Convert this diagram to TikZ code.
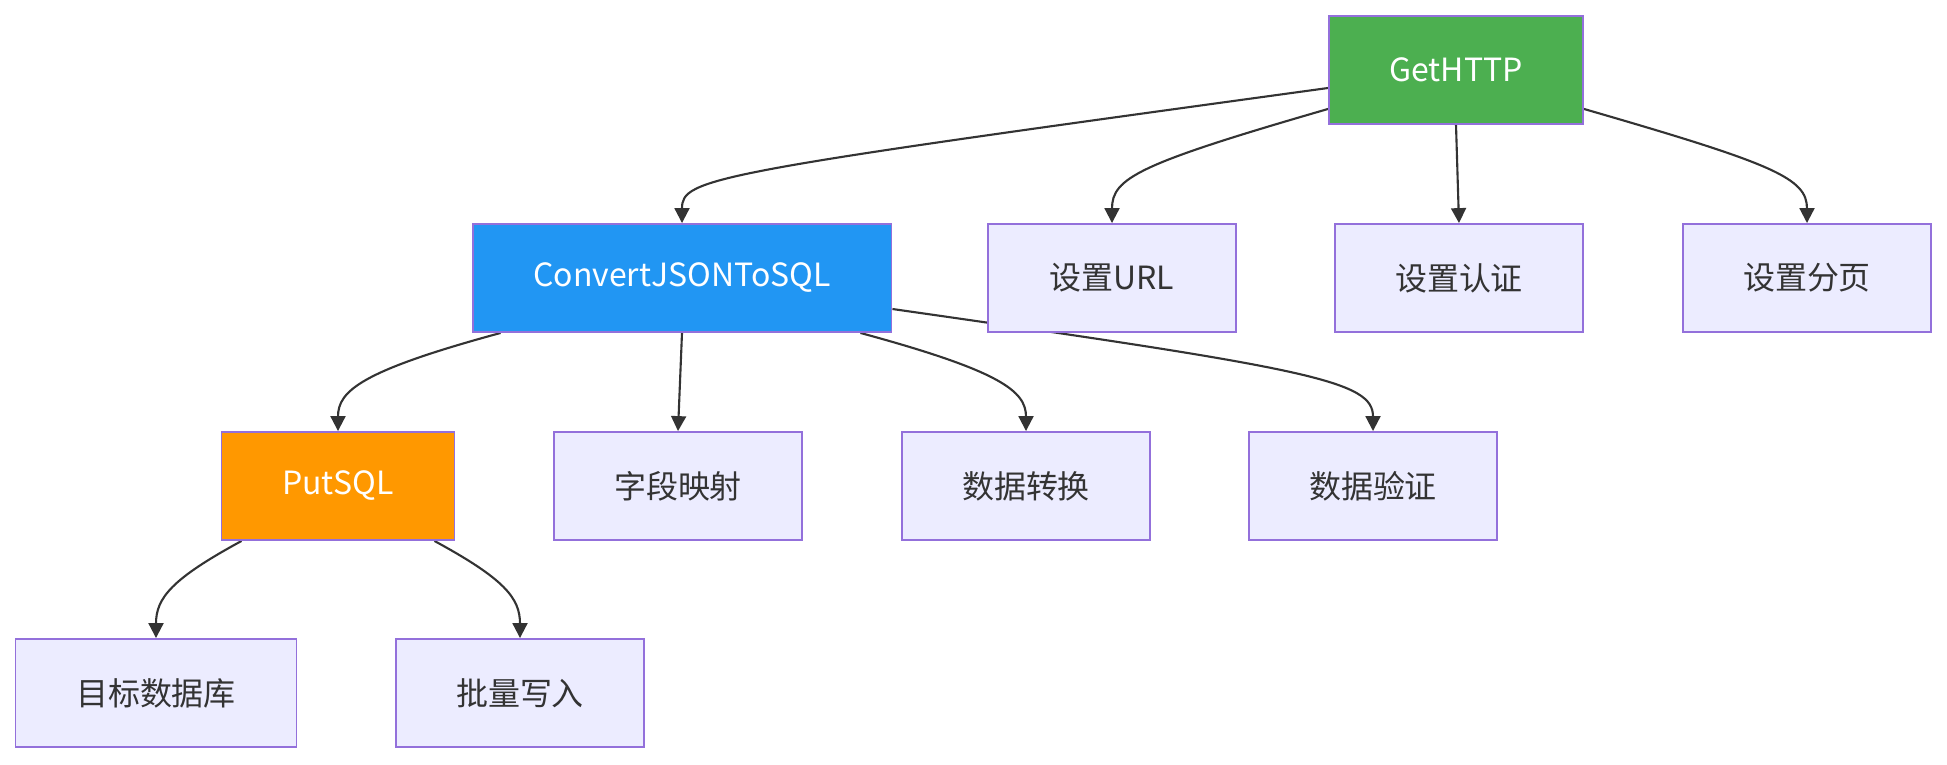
\documentclass[tikz,border=0pt]{standalone}
\usepackage{fontspec}
\setmainfont{Noto Sans CJK SC}
\usetikzlibrary{arrows.meta,backgrounds}

\definecolor{edgegray}{HTML}{333333}
\definecolor{boxline}{HTML}{9370DB}
\definecolor{boxfill}{HTML}{ECECFF}
\definecolor{httpgreen}{HTML}{4CAF50}
\definecolor{convblue}{HTML}{2196F3}
\definecolor{sqlorange}{HTML}{FF9800}

\tikzset{
  box/.style={draw=boxline, fill=boxfill, line width=1.1pt, text=edgegray,
    minimum width=4.96cm, minimum height=2.16cm, inner sep=0pt,
    font=\fontsize{18.2}{22}\selectfont},
  proc/.style={box, text=white},
  link/.style={draw=edgegray, line width=1.2pt, -{Triangle[length=8.5pt,width=8.5pt]}},
}

\begin{document}
\begin{tikzpicture}[x=0.02cm, y=-0.02cm]

\useasboundingbox (0,0) rectangle (1947,764);

\node [proc, fill=httpgreen, minimum width=5.08cm] (GetHTTP) at (1456,70) {GetHTTP};

\node [proc, fill=convblue, minimum width=8.38cm] (Convert) at (682,278) {ConvertJSONToSQL};
\node [box] (SetURL) at (1112,278) {设置URL};
\node [box] (SetAuth) at (1459,278) {设置认证};
\node [box] (SetPage) at (1807,278) {设置分页};

\node [proc, fill=sqlorange, minimum width=4.66cm] (PutSQL) at (338,486) {PutSQL};
\node [box] (FieldMap) at (678,486) {字段映射};
\node [box] (DataConv) at (1026,486) {数据转换};
\node [box] (DataCheck) at (1373,486) {数据验证};

\node [box, minimum width=5.62cm] (TargetDB) at (156,693) {目标数据库};
\node [box] (BatchWrite) at (520,693) {批量写入};

\begin{pgfonlayer}{background}
\draw [link] ([yshift=-0.36cm]GetHTTP.west) .. controls +(-620,85) and +(0,-45) .. (Convert.north);
\draw [link] ([yshift=0.32cm]GetHTTP.south west) .. controls +(-190,55) and +(0,-45) .. (SetURL.north);
\draw [link] (GetHTTP.south) -- (SetAuth.north);
\draw [link] ([yshift=0.32cm]GetHTTP.south east) .. controls +(190,55) and +(0,-45) .. (SetPage.north);

\draw [link] ([xshift=0.58cm]Convert.south west) .. controls +(-140,38) and +(0,-40) .. (PutSQL.north);
\draw [link] (Convert.south) -- (FieldMap.north);
\draw [link] ([xshift=-0.64cm]Convert.south east) .. controls +(140,38) and +(0,-40) .. (DataConv.north);
\draw [link] ([yshift=-0.62cm]Convert.east) .. controls +(420,60) and +(0,-50) .. (DataCheck.north);

\draw [link] ([xshift=0.42cm]PutSQL.south west) .. controls +(-70,38) and +(0,-40) .. (TargetDB.north);
\draw [link] ([xshift=-0.42cm]PutSQL.south east) .. controls +(70,38) and +(0,-40) .. (BatchWrite.north);
\end{pgfonlayer}

\end{tikzpicture}
\end{document}
